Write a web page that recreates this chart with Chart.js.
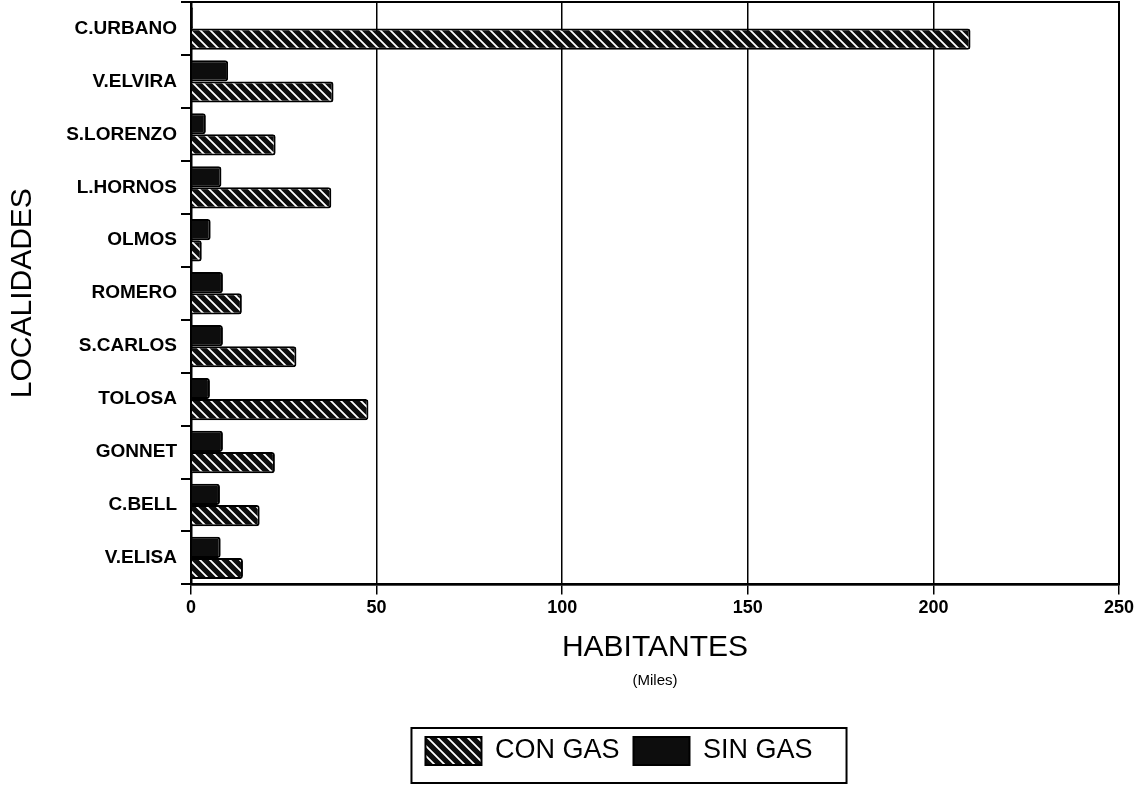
<!DOCTYPE html>
<html>
<head>
<meta charset="utf-8">
<script src="https://cdn.jsdelivr.net/npm/chart.js@4.4.0/dist/chart.umd.min.js"></script>
<style>
  html, body { margin: 0; padding: 0; background: #fff; }
  #wrap { width: 1134px; height: 787px; position: relative; }
</style>
</head>
<body>
<div id="wrap"><canvas id="chart"></canvas></div>
<script>
// data (miles de habitantes)
var localidades = ['C.URBANO', 'V.ELVIRA', 'S.LORENZO', 'L.HORNOS', 'OLMOS', 'ROMERO',
                   'S.CARLOS', 'TOLOSA', 'GONNET', 'C.BELL', 'V.ELISA'];
var conGas = [210, 38.4, 22.8, 37.8, 2.9, 13.7, 28.4, 47.8, 22.6, 18.5, 14];
var sinGas = [0.5, 10, 4, 8.2, 5.3, 8.6, 8.6, 5.1, 8.6, 7.8, 8];
var xTicks = [0, 50, 100, 150, 200, 250];

var FONT = '"Liberation Sans", Arial, Helvetica, sans-serif';

function HatchPattern(){
    var c = document.createElement('canvas');
    c.width = 10; c.height = 10;
    var g = c.getContext('2d');
    g.fillStyle = '#0d0d0d';
    g.fillRect(0, 0, 10, 10);
    g.strokeStyle = '#fff';
    g.lineWidth = 1.8;
    g.beginPath();
    g.moveTo(-2, -2); g.lineTo(12, 12);
    g.moveTo(-2, 8); g.lineTo(2, 12);
    g.moveTo(8, -2); g.lineTo(12, 2);
    g.stroke();
    return g.createPattern(c, 'repeat');
}

var hatch = HatchPattern();

// frame round the plot area, box round the legend, and the "(Miles)" line
var extras = {
    id: 'extras',
    afterLayout: function(chart){
        // legend sits a little left of the plot centre in the original
        chart.legend.left -= 36;
        chart.legend.right -= 36;
    },
    afterDraw: function(chart){
        var ctx = chart.ctx;
        var a = chart.chartArea;
        ctx.save();
        ctx.strokeStyle = '#000';
        ctx.lineWidth = 2;
        ctx.strokeRect(a.left, a.top, a.right - a.left, a.bottom - a.top);

        var boxes = chart.legend.legendHitBoxes;
        if (boxes && boxes.length){
            var l = Math.min.apply(null, boxes.map(function(b){ return b.left; }));
            var r = Math.max.apply(null, boxes.map(function(b){ return b.left + b.width; }));
            var t = Math.min.apply(null, boxes.map(function(b){ return b.top; }));
            var btm = Math.max.apply(null, boxes.map(function(b){ return b.top + b.height; }));
            ctx.lineWidth = 2;
            ctx.strokeRect(l - 14, t - 9, r - l + 14 + 34, btm - t + 9 + 18);
        }

        ctx.fillStyle = '#000';
        ctx.font = '15px ' + FONT;
        ctx.textAlign = 'center';
        ctx.textBaseline = 'middle';
        ctx.fillText('(Miles)', (a.left + a.right) / 2, a.bottom + 96);
        ctx.restore();
    }
};

var ctx = document.getElementById('chart').getContext('2d');
var chart = new Chart(ctx, {
    type: 'bar',
    data: {
        labels: localidades,
        datasets: [{
            label: 'SIN GAS',
            data: sinGas,
            backgroundColor: '#0d0d0d',
            borderColor: '#000',
            borderWidth: 2,
            borderRadius: 3,
            borderSkipped: 'start',
            categoryPercentage: 0.8,
            barPercentage: 1.0
        }, {
            label: 'CON GAS',
            data: conGas,
            backgroundColor: hatch,
            borderColor: '#000',
            borderWidth: 2,
            borderRadius: 3,
            borderSkipped: 'start',
            categoryPercentage: 0.8,
            barPercentage: 1.0
        }]
    },
    options: {
        indexAxis: 'y',
        responsive: true,
        maintainAspectRatio: false,
        animation: false,
        layout: { padding: { top: 2, right: 15, bottom: 12, left: 4 } },
        plugins: {
            tooltip: { enabled: false },
            legend: {
                position: 'bottom',
                reverse: true,
                fullSize: false,
                labels: {
                    boxWidth: 56,
                    boxHeight: 28,
                    padding: 14,
                    color: '#000',
                    font: { family: FONT, size: 27 }
                }
            }
        },
        scales: {
            x: {
                min: 0,
                max: 250,
                afterBuildTicks: function(axis){
                    axis.ticks = xTicks.map(function(v){ return { value: v }; });
                },
                afterFit: function(axis){ axis.paddingRight = 0; axis.paddingLeft = 0; },
                grid: { color: '#000', lineWidth: 1.5, tickLength: 10 },
                border: { color: '#000', width: 2.5 },
                ticks: {
                    color: '#000',
                    padding: 3,
                    maxRotation: 0,
                    font: { family: FONT, size: 18, weight: 'bold' }
                },
                title: {
                    display: true,
                    text: 'HABITANTES',
                    color: '#000',
                    padding: { top: 8, bottom: 57 },
                    font: { family: FONT, size: 30 }
                }
            },
            y: {
                afterFit: function(axis){
                    axis.width = 187;
                    axis.paddingTop = 0;
                    axis.paddingBottom = 0;
                },
                grid: { display: true, drawOnChartArea: false, color: '#000', lineWidth: 2, tickLength: 10 },
                border: { color: '#000', width: 2.5 },
                ticks: {
                    color: '#000',
                    padding: 4,
                    font: { family: FONT, size: 19, weight: 'bold' }
                },
                title: {
                    display: true,
                    text: 'LOCALIDADES',
                    color: '#000',
                    padding: { top: 1, bottom: 0 },
                    font: { family: FONT, size: 30 }
                }
            }
        }
    },
    plugins: [extras]
});
</script>
</body>
</html>
